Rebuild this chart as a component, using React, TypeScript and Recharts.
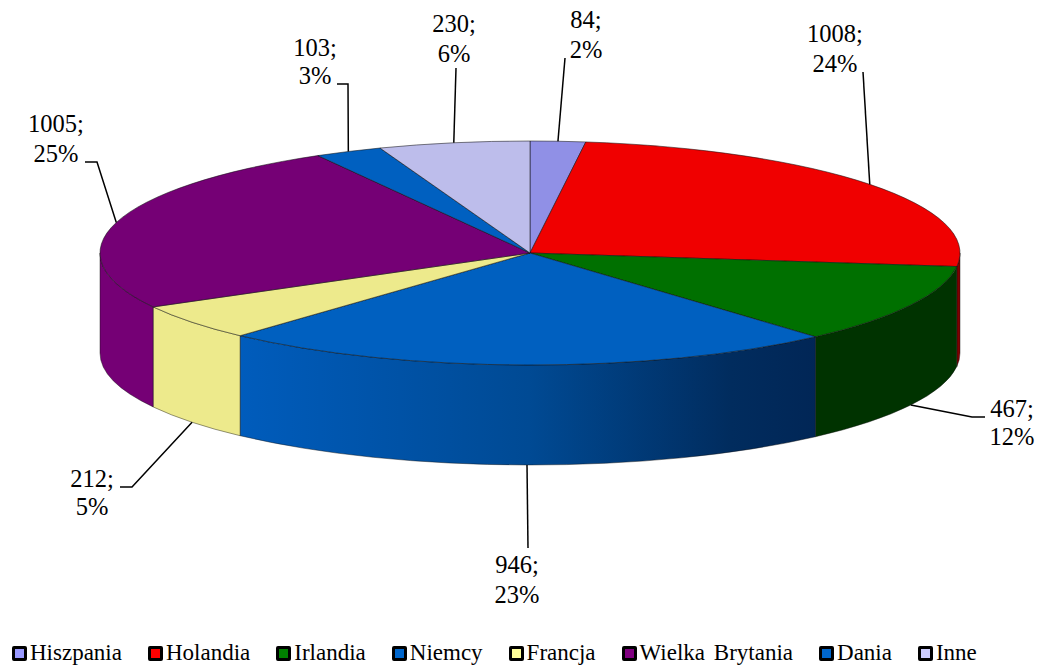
import React from "react";
import { PieChart, Pie, Legend } from "recharts";

const categories = ["Hiszpania", "Holandia", "Irlandia", "Niemcy", "Francja", "Wielka Brytania", "Dania", "Inne"];
const values = [84, 1008, 467, 946, 212, 1005, 103, 230];
const percentLabels = ["2%", "24%", "12%", "23%", "5%", "25%", "3%", "6%"];
const topColors = ["#9090E6", "#F00000", "#007000", "#0060C0", "#EDEA8C", "#750075", "#0060C0", "#BDBDEB"];
const wallColors = ["#5A5A90", "#800000", "#003300", "url(#niemcyWall)", "#EDEA8C", "#750075", "#003366", "#6C6C90"];
const legendColors = ["#9999FF", "#FF0000", "#008000", "#0066CC", "#FFFF99", "#800080", "#0066CC", "#CCCCFF"];

const W = 1040;
const H = 667;
const CX = 530;
const CY = 253;
const RX = 430;
const RY = 112;
const DEPTH = 100;
const FONT = "'Liberation Serif', 'Times New Roman', serif";

// label text centres/baselines and leader-line elbows
const labelLayout = [
  { x: 586, y1: 28, y2: 58, line: [[565, 58]] },
  { x: 835, y1: 42, y2: 72, line: [[863, 72]] },
  { x: 1012, y1: 417, y2: 445, line: [[985, 417], [972, 417]] },
  { x: 517, y1: 573, y2: 603, line: [[528, 548]] },
  { x: 92, y1: 487, y2: 515, line: [[120, 487], [132, 487]] },
  { x: 56, y1: 132, y2: 162, line: [[85, 162], [97, 162]] },
  { x: 315, y1: 56, y2: 84, line: [[337, 84], [348, 84]] },
  { x: 454, y1: 32, y2: 62, line: [[456, 68]] },
];

const data = categories.map((name, i) => ({ name, value: values[i], idx: i }));

const rad = (d: number) => (d * Math.PI) / 180;

function Slice(props: any) {
  const { cx, cy, outerRadius, startAngle, endAngle, payload, index } = props;
  const i = payload?.idx ?? index ?? 0;
  const ratio = RY / RX;
  const ry = outerRadius * ratio;
  const pt = (deg: number, dy = 0) => [cx + outerRadius * Math.cos(rad(deg)), cy - ry * Math.sin(rad(deg)) + dy];
  const a = pt(startAngle);
  const b = pt(endAngle);
  const large = Math.abs(startAngle - endAngle) > 180 ? 1 : 0;
  const top = `M${cx},${cy} L${a[0]},${a[1]} A${outerRadius},${ry} 0 ${large} 1 ${b[0]},${b[1]} Z`;

  // visible front wall: recharts angles between 0 and -180 (after 90 .. -270 sweep)
  const s = Math.min(startAngle, 0);
  const e = Math.max(endAngle, -180);
  let wall: string | null = null;
  if (s > e) {
    const p1 = pt(s);
    const p2 = pt(e);
    const p3 = pt(e, DEPTH);
    const p4 = pt(s, DEPTH);
    wall = `M${p1[0]},${p1[1]} A${outerRadius},${ry} 0 0 1 ${p2[0]},${p2[1]} L${p3[0]},${p3[1]} A${outerRadius},${ry} 0 0 0 ${p4[0]},${p4[1]} Z`;
  }
  return (
    <g>
      <defs>
        <linearGradient id="niemcyWall" gradientUnits="userSpaceOnUse" x1={240} y1={0} x2={818} y2={0}>
          <stop offset="0" stopColor="#005CBC" />
          <stop offset="0.5" stopColor="#004A94" />
          <stop offset="0.85" stopColor="#012C5E" />
          <stop offset="1" stopColor="#012656" />
        </linearGradient>
      </defs>
      {wall && <path d={wall} fill={wallColors[i]} stroke="#111" strokeOpacity={0.55} strokeWidth={0.8} />}
      <path d={top} fill={topColors[i]} stroke="#111" strokeOpacity={0.6} strokeWidth={0.9} />
    </g>
  );
}

function CalloutLabel(props: any) {
  const { cx, cy, midAngle, outerRadius, index, value } = props;
  const ry = outerRadius * (RY / RX);
  const s = Math.sin(rad(midAngle));
  const ax = cx + outerRadius * Math.cos(rad(midAngle));
  const ay = cy - ry * s + (s < 0 ? DEPTH : 0);
  const l = labelLayout[index];
  const pts = [...l.line, [ax, ay]].map((p) => p.join(",")).join(" ");
  return (
    <g>
      <polyline points={pts} fill="none" stroke="#000" strokeWidth={1.5} />
      <text x={l.x} y={l.y1} textAnchor="middle" fontFamily={FONT} fontSize={24.5} fill="#000">{`${value};`}</text>
      <text x={l.x} y={l.y2} textAnchor="middle" fontFamily={FONT} fontSize={24.5} fill="#000">{percentLabels[index]}</text>
    </g>
  );
}

function LegendRow() {
  return (
    <div style={{ display: "flex", alignItems: "center", fontFamily: FONT, fontSize: 23, color: "#000", lineHeight: "26px", whiteSpace: "nowrap" }}>
      {categories.map((c, i) => (
        <div key={c} style={{ display: "flex", alignItems: "center", marginRight: 26 }}>
          <span style={{ boxSizing: "border-box", width: 15, height: 15, border: "3px solid #000", borderRadius: 2, background: legendColors[i], marginRight: 3 }} />
          <span style={{ wordSpacing: 3 }}>{c}</span>
        </div>
      ))}
    </div>
  );
}

export default function App() {
  return (
    <div style={{ position: "absolute", left: 0, top: 0, width: W, height: H, background: "#fff" }}>
      <PieChart width={W} height={H} margin={{ top: 0, right: 0, bottom: 0, left: 0 }}>
        <Pie
          data={data}
          dataKey="value"
          nameKey="name"
          cx={CX}
          cy={CY}
          innerRadius={0}
          outerRadius={RX}
          startAngle={90}
          endAngle={-270}
          paddingAngle={0}
          isAnimationActive={false}
          shape={Slice}
          label={CalloutLabel}
          labelLine={false}
        />
        <Legend content={<LegendRow />} wrapperStyle={{ left: 12, top: 640, bottom: "auto", width: 1028 }} />
      </PieChart>
    </div>
  );
}
